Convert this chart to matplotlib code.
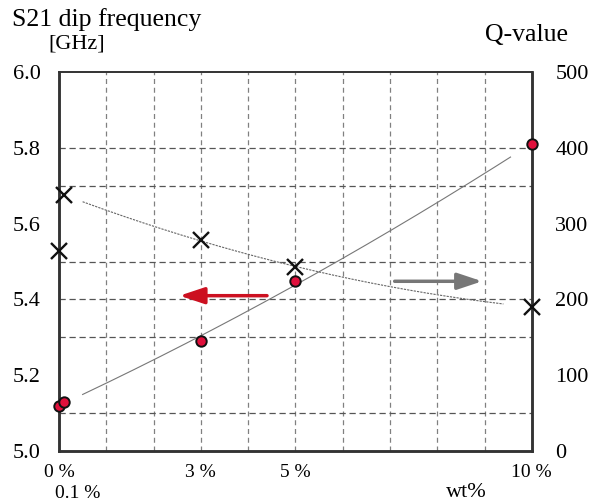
import numpy as np
import matplotlib.pyplot as plt

plt.rcParams['font.family'] = ['Liberation Serif', 'DejaVu Serif']

# data
wt_freq = [0, 0.1, 3, 5, 10]
freq = [5.12, 5.13, 5.29, 5.45, 5.81]
wt_q = [0, 0.1, 3, 5, 10]
qval = [264, 338, 278, 243, 190]
xticks = [0, 3, 5, 10]
xticklabels = ['0 %', '3 %', '5 %', '10 %']
yticks_left = [5.0, 5.2, 5.4, 5.6, 5.8, 6.0]
yticks_right = [0, 100, 200, 300, 400, 500]
hgrid = [5.1, 5.3, 5.4, 5.5, 5.7, 5.8]

fig = plt.figure(figsize=(6, 5.04), dpi=100)
ax = fig.add_axes([0.0983, 0.105, 0.788, 0.752])
ax2 = ax.twinx()

ax.set_xlim(0, 10)
ax.set_ylim(5.0, 6.0)
ax2.set_ylim(0, 500)

# grid
for gx in range(1, 10):
    ax.axvline(gx, color='#808080', lw=0.9, ls=(0, (4, 3)), zorder=0)
for gy in hgrid:
    ax.axhline(gy, color='#555555', lw=0.9, ls=(0, (5, 3)), zorder=0)

# fitted curves
c1 = np.polyfit(wt_freq, freq, 2)
xs = np.linspace(0.5, 9.55, 200)
ax.plot(xs, np.polyval(c1, xs), color='#777777', lw=0.8, zorder=2)
c2 = np.polyfit(wt_q[1:], qval[1:], 2)
xs2 = np.linspace(0.5, 9.4, 200)
ax2.plot(xs2, np.polyval(c2, xs2), color='#666666', lw=0.8, ls=(0, (2, 1)), zorder=2)

ax2.plot(wt_freq, [(f - 5.0) * 500 for f in freq], 'o', color='#e0103c',
         mec='#111111', mew=1.4, ms=7.5, clip_on=False, zorder=5)
ax2.plot(wt_q, qval, 'x', color='#111111', mew=1.7, ms=12, clip_on=False, zorder=5)

# arrows
ax2.annotate('', xy=(2.55, 205), xytext=(4.4, 205), zorder=6,
             arrowprops=dict(arrowstyle='-|>,head_length=1.5,head_width=0.5',
                             color='#cc1020', lw=2.5, shrinkA=0, shrinkB=0))
ax2.annotate('', xy=(8.95, 224), xytext=(7.1, 224), zorder=6,
             arrowprops=dict(arrowstyle='-|>,head_length=1.5,head_width=0.5',
                             color='#777777', lw=2.5, shrinkA=0, shrinkB=0))

ax.set_xticks(xticks)
ax.set_xticklabels(xticklabels)
ax.set_yticks(yticks_left)
ax.set_yticklabels([f'{v:.1f}' for v in yticks_left])
ax2.set_yticks(yticks_right)
ax.tick_params(axis='y', length=0, labelsize=16, pad=13)
ax.tick_params(axis='x', length=0, labelsize=14, pad=9)
ax2.tick_params(length=0, labelsize=16, pad=17)

for a in (ax, ax2):
    a.spines['left'].set_linewidth(1.8)
    a.spines['right'].set_linewidth(1.8)
    a.spines['top'].set_linewidth(1.2)
    a.spines['bottom'].set_linewidth(1.8)
    for s in a.spines.values():
        s.set_color('#333333')

fig.text(0.02, 0.962, 'S21 dip frequency', fontsize=18.5, va='center')
fig.text(0.08, 0.913, '[GHz]', fontsize=16, va='center')
fig.text(0.808, 0.93, 'Q-value', fontsize=18.5, va='center')
fig.text(0.13, 0.004, '0.1 %', fontsize=14, ha='center', va='bottom')
fig.text(0.777, 0.004, 'wt%', fontsize=16, ha='center', va='bottom')

fig.savefig('out.png', dpi=100)
